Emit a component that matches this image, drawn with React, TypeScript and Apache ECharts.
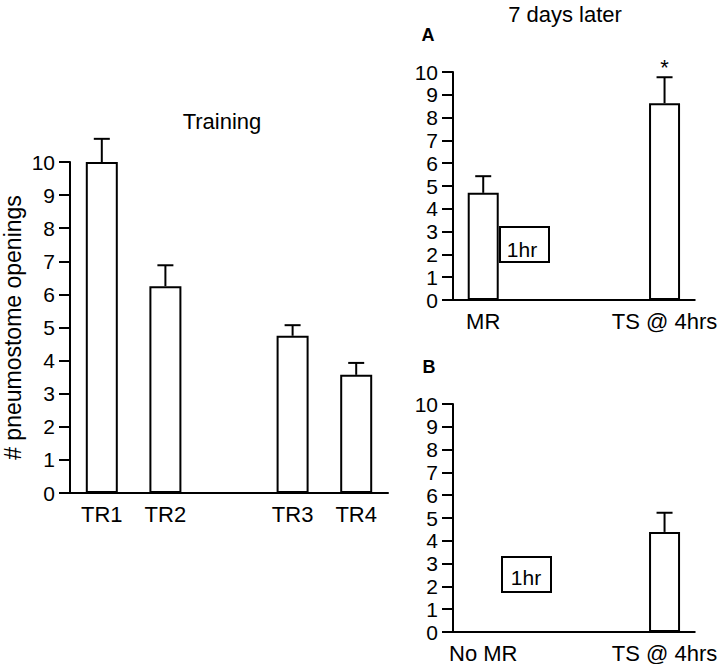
import React, { useEffect, useRef } from "react";
import * as echarts from "echarts";

const FONT = "'Liberation Sans', Arial, Helvetica, sans-serif";

// Training panel
const trainingCats = ["TR1", "TR2", "", "TR3", "TR4"];
const trainingMeans: (number | null)[] = [10.0, 6.25, null, 4.75, 3.57];
const trainingErr: (number | null)[] = [0.7, 0.63, null, 0.32, 0.36];

// Panel A (7 days later)
const aCats = ["MR", "", "", "TS @ 4hrs"];
const aMeans: (number | null)[] = [4.7, null, null, 8.63];
const aErr: (number | null)[] = [0.73, null, null, 1.14];
const aSig = ["", "", "", "*"];

// Panel B
const bCats = ["No MR", "", "", "TS @ 4hrs"];
const bMeans: (number | null)[] = [null, null, null, 4.39];
const bErr: (number | null)[] = [null, null, null, 0.84];
const bSig = ["", "", "", ""];

const yTicks = { min: 0, max: 10, interval: 1 };

function errData(means: (number | null)[], errs: (number | null)[]) {
  const out: number[][] = [];
  means.forEach((m, i) => {
    if (m != null && errs[i] != null) out.push([i, m, errs[i] as number]);
  });
  return out;
}

function errRender(sig: string[]) {
  return (params: any, api: any) => {
    const idx = api.value(0);
    const mean = api.value(1);
    const err = api.value(2);
    const base = api.coord([idx, mean]);
    const top = api.coord([idx, mean + err]);
    const half = 8;
    const style = { stroke: "#000", lineWidth: 2 };
    const children: any[] = [
      { type: "line", shape: { x1: base[0], y1: base[1], x2: top[0], y2: top[1] }, style },
      { type: "line", shape: { x1: top[0] - half, y1: top[1], x2: top[0] + half, y2: top[1] }, style },
    ];
    const s = sig[idx];
    if (s) {
      children.push({
        type: "text",
        x: top[0],
        y: top[1] + 1,
        style: {
          text: s,
          fill: "#000",
          font: `22px ${FONT}`,
          textAlign: "center",
          textVerticalAlign: "bottom",
        },
      });
    }
    return { type: "group", children };
  };
}

export default function App() {
  const ref = useRef<HTMLDivElement>(null);

  useEffect(() => {
    if (!ref.current) return;
    const chart = echarts.init(ref.current, null, { renderer: "svg" });

    const axisLine = { show: true, lineStyle: { color: "#000", width: 2 } };
    const yAxisBase = (gridIndex: number) => ({
      type: "value",
      gridIndex,
      ...yTicks,
      splitLine: { show: false },
      axisLine,
      axisTick: { show: true, length: 11, lineStyle: { color: "#000", width: 2 } },
      axisLabel: { color: "#000", fontSize: 21, fontFamily: FONT, margin: 15 },
    });
    const xAxisBase = (gridIndex: number, data: string[]) => ({
      type: "category",
      gridIndex,
      data,
      boundaryGap: true,
      axisLine,
      axisTick: { show: false },
      axisLabel: { color: "#000", fontSize: 22, fontFamily: FONT, margin: 10, interval: 0 },
    });
    const barStyle = { color: "#fff", borderColor: "#000", borderWidth: 2 };

    const textStyle = (size: number, weight: string = "normal") => ({
      fill: "#000",
      font: `${weight} ${size}px ${FONT}`,
      textAlign: "center",
      textVerticalAlign: "middle",
    });

    chart.setOption({
      animation: false,
      backgroundColor: "#fff",
      grid: [
        { left: 69, top: 162, width: 319, height: 331 },
        { left: 453, top: 72, width: 244, height: 228 },
        { left: 453, top: 404, width: 244, height: 229 },
      ],
      xAxis: [xAxisBase(0, trainingCats), xAxisBase(1, aCats), xAxisBase(2, bCats)],
      yAxis: [
        {
          ...yAxisBase(0),
          name: "# pneumostome openings",
          nameLocation: "middle",
          nameGap: 46,
          nameTextStyle: { color: "#000", fontSize: 23, fontFamily: FONT },
        },
        yAxisBase(1),
        yAxisBase(2),
      ],
      series: [
        { type: "bar", xAxisIndex: 0, yAxisIndex: 0, data: trainingMeans, barWidth: 32, itemStyle: barStyle },
        { type: "bar", xAxisIndex: 1, yAxisIndex: 1, data: aMeans, barWidth: 31, itemStyle: barStyle },
        { type: "bar", xAxisIndex: 2, yAxisIndex: 2, data: bMeans, barWidth: 31, itemStyle: barStyle },
        {
          type: "custom", xAxisIndex: 0, yAxisIndex: 0, z: 5,
          data: errData(trainingMeans, trainingErr), renderItem: errRender(["", "", "", "", ""]),
          encode: { x: 0, y: 1 },
        },
        {
          type: "custom", xAxisIndex: 1, yAxisIndex: 1, z: 5,
          data: errData(aMeans, aErr), renderItem: errRender(aSig),
          encode: { x: 0, y: 1 },
        },
        {
          type: "custom", xAxisIndex: 2, yAxisIndex: 2, z: 5,
          data: errData(bMeans, bErr), renderItem: errRender(bSig),
          encode: { x: 0, y: 1 },
        },
      ],
      graphic: [
        { type: "text", x: 222, y: 121, style: { text: "Training", ...textStyle(22) } },
        { type: "text", x: 565, y: 14, style: { text: "7 days later", ...textStyle(22) } },
        { type: "text", x: 428, y: 35, style: { text: "A", ...textStyle(18, "bold") } },
        { type: "text", x: 429, y: 367, style: { text: "B", ...textStyle(18, "bold") } },
        {
          type: "rect", shape: { x: 500, y: 227, width: 49, height: 35 },
          style: { fill: "#fff", stroke: "#000", lineWidth: 2 }, z: 10,
        },
        { type: "text", x: 522, y: 249, z: 11, style: { text: "1hr", ...textStyle(21) } },
        {
          type: "rect", shape: { x: 502, y: 557, width: 49, height: 35 },
          style: { fill: "#fff", stroke: "#000", lineWidth: 2 }, z: 10,
        },
        { type: "text", x: 526, y: 577, z: 11, style: { text: "1hr", ...textStyle(21) } },
      ],
    });

    return () => chart.dispose();
  }, []);

  return (
    <div
      ref={ref}
      style={{ position: "fixed", left: 0, top: 0, width: 720, height: 664, background: "#fff" }}
    />
  );
}
